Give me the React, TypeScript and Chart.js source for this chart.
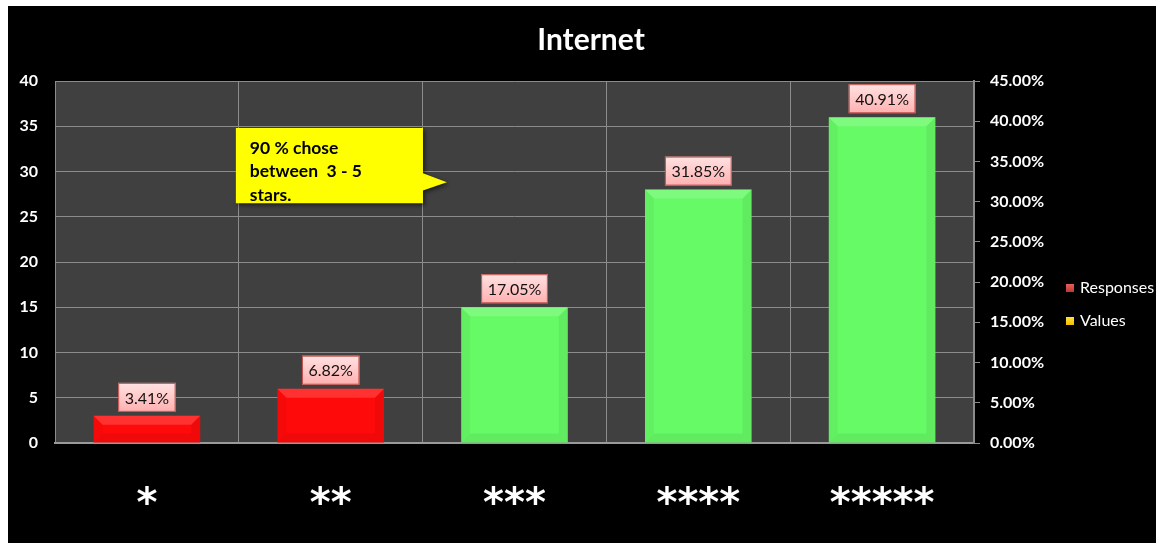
import React, { useEffect, useRef } from "react";
import { Chart, registerables } from "chart.js";

Chart.register(...registerables);

// ---- data ----
const titleText = "Internet";
const categories = ["*", "**", "***", "****", "*****"];
const responses = [3, 6, 15, 28, 36];
const values = [0.0341, 0.0682, 0.1705, 0.3185, 0.4091];
const valueLabels = ["3.41%", "6.82%", "17.05%", "31.85%", "40.91%"];
const barColors = ["#ff0a0a", "#ff0a0a", "#66fa66", "#66fa66", "#66fa66"];
const legendNames = ["Responses", "Values"];
const legendColors = ["#c0392f", "#f5c000"];
const leftMax = 40;
const leftStep = 5;
const rightMax = 0.45;
const rightStep = 0.05;
const calloutLines = ["90 % chose", "between  3 - 5", "stars."];
// callout anchor in data space (category index, left-axis value)
const calloutBox = { x0: 0.484, x1: 1.502, yTop: 34.8, yBottom: 26.5 };
const calloutTip = { x: 1.632, y: 28.8, base0: 29.8, base1: 27.9 };

const FONT = "Lato, 'Open Sans', 'DejaVu Sans', sans-serif";

const decorPlugin = {
  id: "decor",
  beforeDraw(chart: any) {
    const { ctx, chartArea } = chart;
    ctx.save();
    ctx.fillStyle = "#404040";
    ctx.fillRect(chartArea.left, chartArea.top, chartArea.right - chartArea.left, chartArea.bottom - chartArea.top);
    ctx.restore();
  },
  afterDatasetsDraw(chart: any) {
    const { ctx } = chart;
    const meta = chart.getDatasetMeta(0);
    ctx.save();
    // bevel effect on bars
    meta.data.forEach((bar: any) => {
      const w = bar.width;
      const l = bar.x - w / 2;
      const r = bar.x + w / 2;
      const t = bar.y;
      const b = bar.base;
      const bv = Math.min(9, (b - t) / 2);
      const poly = (pts: number[][], color: string) => {
        ctx.beginPath();
        ctx.moveTo(pts[0][0], pts[0][1]);
        for (let i = 1; i < pts.length; i++) ctx.lineTo(pts[i][0], pts[i][1]);
        ctx.closePath();
        ctx.fillStyle = color;
        ctx.fill();
      };
      poly([[l, t], [r, t], [r - bv, t + bv], [l + bv, t + bv]], "rgba(255,255,255,0.16)");
      poly([[l, t], [l + bv, t + bv], [l + bv, b - bv], [l, b]], "rgba(0,0,0,0.04)");
      poly([[r, t], [r - bv, t + bv], [r - bv, b - bv], [r, b]], "rgba(0,0,0,0.06)");
      poly([[l, b], [l + bv, b - bv], [r - bv, b - bv], [r, b]], "rgba(0,0,0,0.06)");
    });
    // data labels
    ctx.font = `16px ${FONT}`;
    ctx.textAlign = "center";
    ctx.textBaseline = "middle";
    meta.data.forEach((bar: any, i: number) => {
      const txt = valueLabels[i];
      const tw = ctx.measureText(txt).width;
      const bw = tw + 13;
      const bh = 29;
      const bx = bar.x - bw / 2;
      const by = bar.y - 4 - bh;
      const g = ctx.createLinearGradient(0, by, 0, by + bh);
      g.addColorStop(0, "#ffe2e2");
      g.addColorStop(1, "#ffb0b0");
      ctx.fillStyle = g;
      ctx.fillRect(bx, by, bw, bh);
      ctx.strokeStyle = "#c0504d";
      ctx.lineWidth = 1;
      ctx.strokeRect(bx + 0.5, by + 0.5, bw - 1, bh - 1);
      ctx.fillStyle = "#111";
      ctx.fillText(txt, bar.x, by + bh / 2 + 1);
    });
    // callout
    const xs = chart.scales.x;
    const ys = chart.scales.y;
    const L = xs.getPixelForValue(calloutBox.x0);
    const R = xs.getPixelForValue(calloutBox.x1);
    const T = ys.getPixelForValue(calloutBox.yTop);
    const B = ys.getPixelForValue(calloutBox.yBottom);
    const tx = xs.getPixelForValue(calloutTip.x);
    const ty = ys.getPixelForValue(calloutTip.y);
    const p0 = ys.getPixelForValue(calloutTip.base0);
    const p1 = ys.getPixelForValue(calloutTip.base1);
    ctx.save();
    ctx.shadowColor = "rgba(0,0,0,0.55)";
    ctx.shadowBlur = 4;
    ctx.shadowOffsetX = 2;
    ctx.shadowOffsetY = 2;
    ctx.beginPath();
    ctx.moveTo(L, T);
    ctx.lineTo(R, T);
    ctx.lineTo(R, p0);
    ctx.lineTo(tx, ty);
    ctx.lineTo(R, p1);
    ctx.lineTo(R, B);
    ctx.lineTo(L, B);
    ctx.closePath();
    ctx.fillStyle = "#ffff00";
    ctx.fill();
    ctx.restore();
    ctx.fillStyle = "#000";
    ctx.font = `bold 17.5px ${FONT}`;
    ctx.textAlign = "left";
    ctx.textBaseline = "middle";
    calloutLines.forEach((line, i) => {
      ctx.fillText(line, L + 14, T + 20 + i * 23.5);
    });
    ctx.restore();
  },
  afterDraw(chart: any) {
    const { ctx, width } = chart;
    ctx.save();
    // title
    ctx.fillStyle = "#ffffff";
    ctx.font = `bold 30px ${FONT}`;
    ctx.textAlign = "center";
    ctx.textBaseline = "middle";
    ctx.fillText(titleText, width / 2 + 9, 34);
    // legend
    ctx.font = `16px ${FONT}`;
    ctx.textAlign = "left";
    legendNames.forEach((name, i) => {
      const cy = 282 + i * 33;
      const sx = 1058;
      const g = ctx.createLinearGradient(0, cy - 4, 0, cy + 4);
      g.addColorStop(0, i === 0 ? "#e06060" : "#ffe040");
      g.addColorStop(1, legendColors[i]);
      ctx.fillStyle = g;
      ctx.fillRect(sx, cy - 4, 8, 8);
      ctx.fillStyle = "#ffffff";
      ctx.fillText(name, sx + 14, cy);
    });
    ctx.restore();
  },
};

export default function App() {
  const ref = useRef<HTMLCanvasElement | null>(null);
  useEffect(() => {
    if (!ref.current) return;
    const chart = new Chart(ref.current, {
      type: "bar",
      data: {
        labels: categories,
        datasets: [
          {
            label: legendNames[0],
            data: responses,
            backgroundColor: barColors,
            borderWidth: 0,
            barPercentage: 0.58,
            categoryPercentage: 1,
            yAxisID: "y",
            order: 1,
          },
          {
            type: "line",
            label: legendNames[1],
            data: values,
            yAxisID: "y1",
            showLine: false,
            pointRadius: 0,
            borderColor: "rgba(0,0,0,0)",
            backgroundColor: legendColors[1],
            order: 2,
          } as any,
        ],
      },
      options: {
        animation: false,
        responsive: true,
        maintainAspectRatio: false,
        layout: { padding: { top: 75, left: 0, right: 0, bottom: 0 } },
        plugins: {
          legend: { display: false },
          title: { display: false },
          tooltip: { enabled: false },
        },
        scales: {
          x: {
            grid: {
              color: "#8c8c8c",
              lineWidth: 1,
              offset: true,
              drawTicks: false,
            },
            border: { color: "#9a9a9a", width: 2 },
            ticks: {
              color: "#ffffff",
              font: { family: "'DejaVu Sans', sans-serif", size: 40, weight: "bold" },
              padding: 39,
            },
            afterFit(scale: any) {
              scale.height = 100;
            },
          },
          y: {
            position: "left",
            min: 0,
            max: leftMax,
            ticks: {
              stepSize: leftStep,
              color: "#ffffff",
              font: { family: FONT, size: 16, weight: "bold" },
              padding: 17,
            },
            grid: { color: "#8c8c8c", lineWidth: 1, drawTicks: false },
            border: { display: false },
            afterFit(scale: any) {
              scale.width = 47;
            },
          },
          y1: {
            position: "right",
            min: 0,
            max: rightMax,
            ticks: {
              stepSize: rightStep,
              color: "#ffffff",
              font: { family: FONT, size: 16, weight: "bold" },
              padding: 10,
              callback: (v: any) => (Number(v) * 100).toFixed(2) + "%",
            },
            grid: { drawOnChartArea: false, color: "#8c8c8c", tickLength: 6 },
            border: { color: "#8c8c8c", width: 2 },
            afterFit(scale: any) {
              scale.width = 182;
            },
          },
        },
      },
      plugins: [decorPlugin],
    });
    return () => chart.destroy();
  }, []);

  return (
    <div
      style={{
        position: "fixed",
        left: 8,
        top: 6,
        width: 1148,
        height: 537,
        background: "#000",
      }}
    >
      <canvas ref={ref} />
    </div>
  );
}
